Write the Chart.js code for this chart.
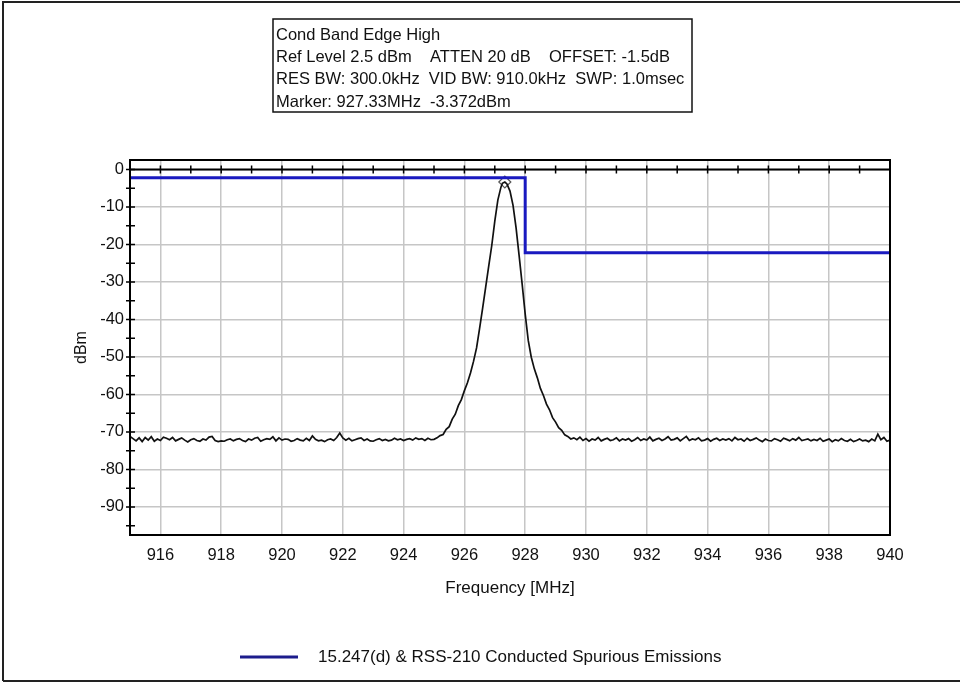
<!DOCTYPE html>
<html>
<head>
<meta charset="utf-8">
<script src="https://cdn.jsdelivr.net/npm/chart.js@4.4.1/dist/chart.umd.min.js"></script>
<style>
  html, body { margin: 0; padding: 0; background: #fff; }
  #wrap { width: 960px; height: 683px; }
</style>
</head>
<body>
<div id="wrap"><canvas id="chart" width="960" height="683"></canvas></div>
<script>
// sweep below the carrier (noise floor)
const noiseLowFreq = [
  915.0, 915.1, 915.2, 915.3, 915.4, 915.5, 915.6, 915.7, 915.8, 915.9,
  916.0, 916.1, 916.2, 916.3, 916.4, 916.5, 916.6, 916.7, 916.8, 916.9,
  917.0, 917.1, 917.2, 917.3, 917.4, 917.5, 917.6, 917.7, 917.8, 917.9,
  918.0, 918.1, 918.2, 918.3, 918.4, 918.5, 918.6, 918.7, 918.8, 918.9,
  919.0, 919.1, 919.2, 919.3, 919.4, 919.5, 919.6, 919.7, 919.8, 919.9,
  920.0, 920.1, 920.2, 920.3, 920.4, 920.5, 920.6, 920.7, 920.8, 920.9,
  921.0, 921.1, 921.2, 921.3, 921.4, 921.5, 921.6, 921.7, 921.8, 921.9,
  922.0, 922.1, 922.2, 922.3, 922.4, 922.5, 922.6, 922.7, 922.8, 922.9,
  923.0, 923.1, 923.2, 923.3, 923.4, 923.5, 923.6, 923.7, 923.8, 923.9,
  924.0, 924.1, 924.2, 924.3, 924.4, 924.5, 924.6, 924.7, 924.8, 924.9,
  925.0
];
const noiseLowDbm = [
  -71.2, -71.8, -72.4, -71.6, -72.6, -71.5, -72.2, -71.3, -72.5, -71.9,
  -72.3, -71.4, -71.7, -72.1, -71.5, -72.4, -72.0, -71.6, -72.2, -72.7,
  -72.1, -71.8, -72.3, -72.5, -71.9, -72.2, -71.4, -71.2, -72.3, -72.6,
  -72.4, -72.5, -72.1, -71.9, -72.4, -72.0, -71.8, -72.3, -72.6, -71.9,
  -72.2, -71.7, -71.5, -72.5, -72.1, -71.8, -72.0, -71.3, -72.4, -71.6,
  -72.2, -71.9, -72.0, -72.5, -72.3, -71.8, -72.2, -72.4, -71.7, -72.3,
  -71.1, -72.0, -72.4, -72.2, -72.6, -72.1, -71.9, -72.3, -71.5, -70.3,
  -71.6, -72.2, -71.7, -72.4, -72.1, -71.8, -71.6, -72.3, -71.9, -72.4,
  -72.5, -72.1, -71.8, -72.3, -72.0, -72.4, -72.2, -71.7, -72.1, -71.9,
  -72.3, -72.0, -71.8, -72.2, -71.6, -72.0, -71.8, -72.3, -71.7, -72.1,
  -72.0
];

// carrier
const peakFreq = [
  925.1, 925.2, 925.3, 925.4, 925.5, 925.6, 925.7, 925.8, 925.9, 926.0,
  926.1, 926.2, 926.3, 926.4, 926.5, 926.6, 926.7, 926.8, 926.9, 927.0,
  927.1, 927.2, 927.25, 927.33, 927.4, 927.5, 927.6, 927.7, 927.8, 927.9,
  928.0, 928.1, 928.2, 928.3, 928.4, 928.5, 928.6, 928.7, 928.8, 928.9,
  929.0, 929.1, 929.2, 929.3, 929.4, 929.5
];
const peakDbm = [
  -71.6, -71.0, -70.7, -69.3, -68.6, -66.6, -65.3, -63.0, -61.4, -59.0,
  -56.9, -54.3, -51.2, -47.6, -42.4, -37.0, -31.4, -25.8, -20.3, -13.8,
  -8.2, -4.8, -3.7, -3.372, -3.9, -5.8, -9.6, -15.6, -23.0, -30.6,
  -38.6, -45.6, -50.1, -53.2, -55.6, -58.4, -60.3, -62.6, -64.1, -66.2,
  -67.4, -68.9, -69.6, -70.8, -71.2, -71.9
];

// sweep above the carrier
const noiseHighFreq = [
  929.6, 929.7, 929.8, 929.9, 930.0, 930.1, 930.2, 930.3, 930.4, 930.5,
  930.6, 930.7, 930.8, 930.9, 931.0, 931.1, 931.2, 931.3, 931.4, 931.5,
  931.6, 931.7, 931.8, 931.9, 932.0, 932.1, 932.2, 932.3, 932.4, 932.5,
  932.6, 932.7, 932.8, 932.9, 933.0, 933.1, 933.2, 933.3, 933.4, 933.5,
  933.6, 933.7, 933.8, 933.9, 934.0, 934.1, 934.2, 934.3, 934.4, 934.5,
  934.6, 934.7, 934.8, 934.9, 935.0, 935.1, 935.2, 935.3, 935.4, 935.5,
  935.6, 935.7, 935.8, 935.9, 936.0, 936.1, 936.2, 936.3, 936.4, 936.5,
  936.6, 936.7, 936.8, 936.9, 937.0, 937.1, 937.2, 937.3, 937.4, 937.5,
  937.6, 937.7, 937.8, 937.9, 938.0, 938.1, 938.2, 938.3, 938.4, 938.5,
  938.6, 938.7, 938.8, 938.9, 939.0, 939.1, 939.2, 939.3, 939.4, 939.5,
  939.6, 939.7, 939.8, 939.9, 940.0
];
const noiseHighDbm = [
  -71.6, -72.1, -71.4, -72.3, -71.8, -72.5, -71.9, -72.2, -71.5, -72.4,
  -72.0, -71.7, -72.3, -72.1, -71.6, -72.4, -71.9, -72.2, -71.8, -72.5,
  -72.1, -71.5, -72.3, -71.9, -72.2, -71.4, -72.4, -72.0, -71.7, -72.3,
  -71.9, -71.3, -72.2, -72.0, -71.6, -72.4, -71.8, -71.2, -72.3, -71.9,
  -72.1, -71.6, -72.4, -72.2, -71.8, -72.5, -72.0, -71.7, -72.3, -71.9,
  -72.2, -71.8, -72.4, -71.5, -72.1, -71.9, -72.5, -71.7, -72.3, -72.0,
  -71.6, -72.2, -72.6, -71.9, -72.3, -72.4, -71.8, -72.1, -72.5, -71.7,
  -72.0, -72.4, -71.8, -72.2, -71.5, -72.3, -72.1, -71.9, -72.4, -72.0,
  -72.3, -71.7, -72.5, -72.2, -71.9, -72.6, -72.1, -72.4, -71.8, -72.3,
  -72.5, -72.0, -72.6, -72.3, -71.9, -72.4, -72.2, -72.6, -71.9, -72.4,
  -70.6, -72.1, -71.5, -72.5, -72.2
];

// limit line
const limitFreq = [915, 928, 928, 940];
const limitDbm = [-2.2, -2.2, -22.2, -22.2];
const limitLabel = "15.247(d) & RSS-210 Conducted Spurious Emissions";

// marker
const markerFreq = [927.33];
const markerDbm = [-3.372];

// axes
const xTickValues = [916, 918, 920, 922, 924, 926, 928, 930, 932, 934, 936, 938, 940];
const xMinorTicks = [916, 917, 918, 919, 920, 921, 922, 923, 924, 925, 926, 927, 928,
                     929, 930, 931, 932, 933, 934, 935, 936, 937, 938, 939];
const yTickValues = [-95, -90, -85, -80, -75, -70, -65, -60, -55, -50, -45, -40,
                     -35, -30, -25, -20, -15, -10, -5, 0];

const infoLines = [
  "Cond Band Edge High",
  "Ref Level 2.5 dBm    ATTEN 20 dB    OFFSET: -1.5dB",
  "RES BW: 300.0kHz  VID BW: 910.0kHz  SWP: 1.0msec",
  "Marker: 927.33MHz  -3.372dBm"
];

const FONT = "'Liberation Sans', Arial, sans-serif";
const LIMIT_COLOR = "#1a1ac0";

function toPoints(xs, ys) {
  let pts = [];
  for (let i = 0; i < xs.length; i++) {
    pts.push({ x: xs[i], y: ys[i] });
  }
  return pts;
}

function isMajor(v) {
  return Math.abs(v % 10) < 0.001;
}

const traceFreq = noiseLowFreq.concat(peakFreq, noiseHighFreq);
const traceDbm = noiseLowDbm.concat(peakDbm, noiseHighDbm);

const decorPlugin = {
  id: "decor",
  afterDraw(chart) {
    const ctx = chart.ctx;
    const a = chart.chartArea;
    const x = chart.scales.x;
    const y = chart.scales.y;
    ctx.save();

    // plot frame
    ctx.strokeStyle = "#000";
    ctx.lineWidth = 2;
    ctx.strokeRect(a.left, a.top, a.right - a.left, a.bottom - a.top);

    // 0 dB axis line with cross ticks
    const y0 = y.getPixelForValue(0);
    ctx.beginPath();
    ctx.moveTo(a.left, y0);
    ctx.lineTo(a.right, y0);
    ctx.stroke();
    ctx.lineWidth = 1.5;
    ctx.beginPath();
    xMinorTicks.forEach(v => {
      const px = x.getPixelForValue(v);
      ctx.moveTo(px, y0 - 4);
      ctx.lineTo(px, y0 + 4);
    });
    yTickValues.forEach(v => {
      const py = y.getPixelForValue(v);
      ctx.moveTo(a.left - 4, py);
      ctx.lineTo(a.left + 5, py);
    });
    ctx.stroke();

    // outer border of the picture
    ctx.strokeStyle = "#222";
    ctx.lineWidth = 2;
    ctx.beginPath();
    ctx.moveTo(3, 681);
    ctx.lineTo(3, 2);
    ctx.lineTo(960, 2);
    ctx.moveTo(3, 681);
    ctx.lineTo(960, 681);
    ctx.stroke();

    // info box
    ctx.lineWidth = 1.5;
    ctx.strokeStyle = "#111";
    ctx.strokeRect(273, 19, 419, 93);
    ctx.fillStyle = "#111";
    ctx.font = "16.5px " + FONT;
    ctx.textBaseline = "middle";
    ctx.textAlign = "left";
    infoLines.forEach((t, i) => ctx.fillText(t, 276, 35 + i * 22.4));

    // legend
    const ds = chart.data.datasets[1];
    ctx.strokeStyle = "#1c1c8c";
    ctx.lineWidth = 3;
    ctx.beginPath();
    ctx.moveTo(240, 657);
    ctx.lineTo(298, 657);
    ctx.stroke();
    ctx.font = "17px " + FONT;
    ctx.fillText(ds.label, 318, 657);

    ctx.restore();
  }
};

const configuration = {
  type: "line",
  data: {
    datasets: [{
      label: "Trace",
      data: toPoints(traceFreq, traceDbm),
      borderColor: "#111",
      borderWidth: 1.7,
      pointRadius: 0,
      tension: 0
    }, {
      label: limitLabel,
      data: toPoints(limitFreq, limitDbm),
      borderColor: LIMIT_COLOR,
      borderWidth: 3,
      pointRadius: 0,
      tension: 0
    }, {
      label: "Marker",
      data: toPoints(markerFreq, markerDbm),
      showLine: false,
      pointStyle: "rectRot",
      pointRadius: 6,
      pointBorderWidth: 1.2,
      pointBorderColor: "#555",
      pointBackgroundColor: "rgba(255,255,255,0.7)"
    }]
  },
  options: {
    responsive: false,
    animation: false,
    layout: { padding: { top: 160, right: 70, left: 0, bottom: 0 } },
    plugins: {
      legend: { display: false },
      tooltip: { enabled: false }
    },
    scales: {
      x: {
        type: "linear",
        min: 915,
        max: 940,
        afterFit: s => { s.height = 148; },
        afterBuildTicks: s => { s.ticks = xTickValues.map(v => ({ value: v })); },
        grid: { color: "#c6c6c6", lineWidth: 1.5, drawTicks: false },
        border: { color: "#000", width: 2 },
        ticks: { autoSkip: false, maxRotation: 0, padding: 11, color: "#111", font: { family: FONT, size: 16.5 } },
        title: {
          display: true,
          text: "Frequency [MHz]",
          color: "#111",
          font: { family: FONT, size: 17 },
          padding: { top: 0, bottom: 84 }
        }
      },
      y: {
        type: "linear",
        min: -97.5,
        max: 2.5,
        afterFit: s => { s.width = 130; },
        afterBuildTicks: s => { s.ticks = yTickValues.map(v => ({ value: v })); },
        grid: {
          color: c => (c.tick && isMajor(c.tick.value)) ? "#c6c6c6" : "rgba(0,0,0,0)",
          lineWidth: 1.5,
          drawTicks: false
        },
        border: { color: "#000", width: 2 },
        ticks: {
          autoSkip: false,
          padding: 6,
          color: "#111",
          font: { family: FONT, size: 16.5 },
          callback: v => (isMajor(v) ? String(v) : "")
        },
        title: {
          display: true,
          text: "dBm",
          color: "#111",
          font: { family: FONT, size: 16 },
          padding: { top: 72, bottom: 0 }
        }
      }
    }
  },
  plugins: [decorPlugin]
};

new Chart(document.getElementById("chart"), configuration);
</script>
</body>
</html>
